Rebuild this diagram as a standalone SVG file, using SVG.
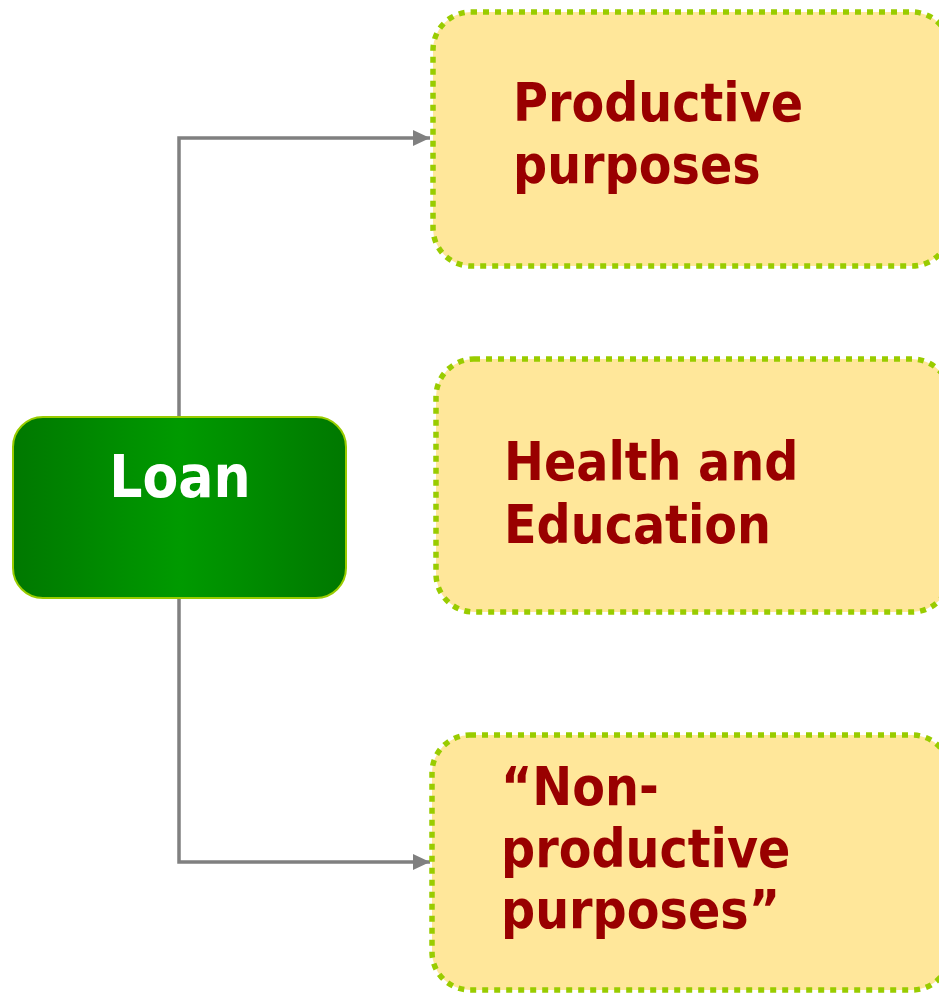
<svg xmlns="http://www.w3.org/2000/svg" width="939" height="993" viewBox="0 0 939 993">
  <defs>
    <linearGradient id="loanFill" x1="0" y1="0" x2="1" y2="0">
      <stop offset="0" stop-color="#007800"/>
      <stop offset="0.5" stop-color="#009a00"/>
      <stop offset="1" stop-color="#007800"/>
    </linearGradient>
    <marker id="arrowHead" markerUnits="userSpaceOnUse" markerWidth="18" markerHeight="18" viewBox="0 0 18 18" refX="17" refY="9" orient="auto">
      <path d="M0,1 L17,9 L0,17 Z" fill="#808080"/>
    </marker>
    <style>
      .purpose { fill: #ffe79a; stroke: #99cc00; stroke-width: 5.5; stroke-dasharray: 6 6; }
      .label { font-family: 'DejaVu Sans Condensed', 'DejaVu Sans', sans-serif; font-stretch: condensed; font-weight: bold; font-size: 53px; fill: #990000; }
      .link { fill: none; stroke: #808080; stroke-width: 3.5; }
    </style>
  </defs>

  <g id="connectors">
    <path class="link" d="M179,417 V138 H430" marker-end="url(#arrowHead)"/>
    <path class="link" d="M179,598 V862 H430" marker-end="url(#arrowHead)"/>
  </g>

  <g id="loan">
    <rect x="13" y="417" width="333" height="181" rx="30" ry="30" fill="url(#loanFill)" stroke="#99cc00" stroke-width="2"/>
    <text x="180" y="497" text-anchor="middle" font-family="'DejaVu Sans Condensed', 'DejaVu Sans', sans-serif" font-stretch="condensed" font-weight="bold" font-size="58" fill="#ffffff">Loan</text>
  </g>

  <g id="productive">
    <rect class="purpose" x="433" y="12" width="517" height="254" rx="38" ry="38"/>
    <text class="label" x="513" y="121">Productive</text>
    <text class="label" x="513" y="183">purposes</text>
  </g>

  <g id="health">
    <rect class="purpose" x="436" y="359" width="514" height="253" rx="38" ry="38"/>
    <text class="label" x="504" y="480">Health and</text>
    <text class="label" x="504" y="543">Education</text>
  </g>

  <g id="nonproductive">
    <rect class="purpose" x="432" y="735" width="518" height="255" rx="38" ry="38"/>
    <text class="label" x="501" y="805">“Non-</text>
    <text class="label" x="501" y="867">productive</text>
    <text class="label" x="501" y="928">purposes”</text>
  </g>
</svg>
